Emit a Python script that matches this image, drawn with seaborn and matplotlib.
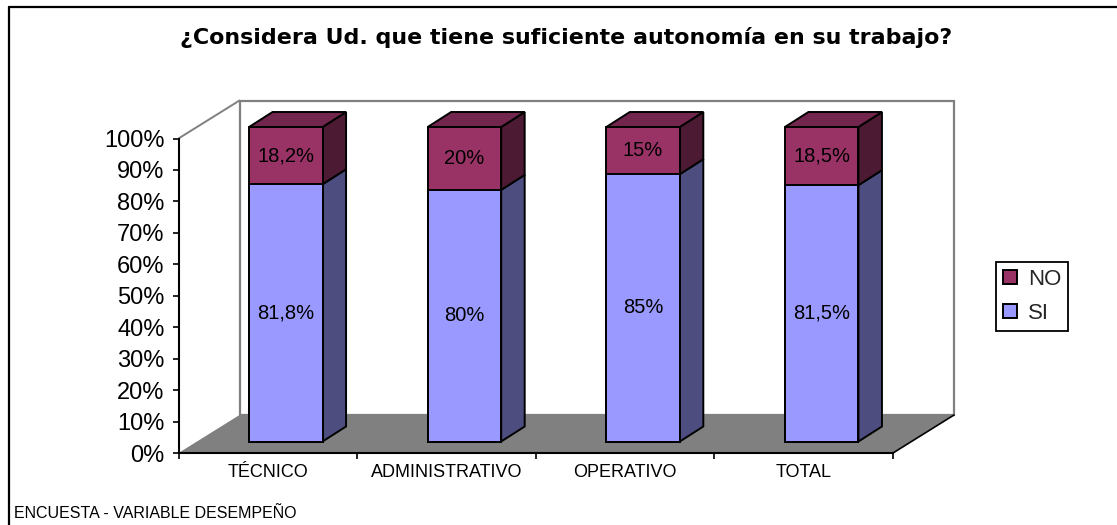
import matplotlib
matplotlib.use("Agg")
import matplotlib.pyplot as plt
from matplotlib.patches import Polygon, Patch
from matplotlib.lines import Line2D
import seaborn as sns

categorias = ["TÉCNICO", "ADMINISTRATIVO", "OPERATIVO", "TOTAL"]
si = [81.8, 80, 85, 81.5]
no = [18.2, 20, 15, 18.5]
si_labels = ["81,8%", "80%", "85%", "81,5%"]
no_labels = ["18,2%", "20%", "15%", "18,5%"]
yticks = [0, 10, 20, 30, 40, 50, 60, 70, 80, 90, 100]

W, H = 1117, 525
AX_L, AX_R, AX_T, AX_B = 178.5, 893, 138.5, 453
px_x = 4 / (AX_R - AX_L)    # categories per pixel
px_y = 100 / (AX_B - AX_T)  # percent per pixel

# 3d look, all in pixels
wall_dx, wall_dy = 61 * px_x, 38 * px_y
bar_dx, bar_dy = 23.5 * px_x, 15 * px_y
shift_x, shift_y = 18 * px_x, 11.5 * px_y
bar_w = 73.5 * px_x

SI_C, SI_SIDE = "#9999FF", "#4D4D80"
NO_C, NO_SIDE, NO_TOP = "#993366", "#4D1A33", "#73264D"
GRIS = "#808080"

sns.set_style("white")
plt.rcParams["font.family"] = ["Liberation Sans", "DejaVu Sans"]

fig = plt.figure(figsize=(W / 100, H / 100), dpi=100, facecolor="white")
ax = fig.add_axes([AX_L / W, 1 - AX_B / H, (AX_R - AX_L) / W, (AX_B - AX_T) / H])
ax.patch.set_alpha(0)

total = [a + b for a, b in zip(si, no)]
sns.barplot(x=categorias, y=total, color=NO_C, saturation=1, width=bar_w,
            edgecolor="black", linewidth=1.4, ax=ax)
sns.barplot(x=categorias, y=si, color=SI_C, saturation=1, width=bar_w,
            edgecolor="black", linewidth=1.4, ax=ax)
for p in ax.patches:
    p.set_x(p.get_x() + shift_x)
    p.set_y(p.get_y() + shift_y)
    p.set_zorder(4)
    p.set_clip_on(False)

ax.set_xlim(-0.5, 3.5)
ax.set_ylim(0, 100)

# back wall and floor
x0, x1 = -0.5, 3.5
ax.add_patch(Polygon([(x0 + wall_dx, wall_dy), (x1 + wall_dx, wall_dy),
                      (x1 + wall_dx, 100 + wall_dy), (x0 + wall_dx, 100 + wall_dy)],
                     closed=True, fc="white", ec=GRIS, lw=1.6, zorder=0.5, clip_on=False))
ax.add_line(Line2D([x0, x0 + wall_dx], [100, 100 + wall_dy], color=GRIS, lw=1.4,
                   zorder=0.6, clip_on=False))
ax.add_patch(Polygon([(x0, 0), (x1, 0), (x1 + wall_dx, wall_dy), (x0 + wall_dx, wall_dy)],
                     closed=True, fc=GRIS, ec="none", zorder=1, clip_on=False))
ax.add_line(Line2D([x1, x1 + wall_dx], [0, wall_dy], color="black", lw=1.2,
                   zorder=1.1, clip_on=False))

# sides and tops of the bars
for i in range(len(categorias)):
    left = i + shift_x - bar_w / 2
    right = i + shift_x + bar_w / 2
    low = shift_y
    mid = si[i] + shift_y
    top = total[i] + shift_y
    ax.add_patch(Polygon([(right, low), (right + bar_dx, low + bar_dy),
                          (right + bar_dx, mid + bar_dy), (right, mid)],
                         closed=True, fc=SI_SIDE, ec="black", lw=1.4, zorder=3, clip_on=False))
    ax.add_patch(Polygon([(right, mid), (right + bar_dx, mid + bar_dy),
                          (right + bar_dx, top + bar_dy), (right, top)],
                         closed=True, fc=NO_SIDE, ec="black", lw=1.4, zorder=3, clip_on=False))
    ax.add_patch(Polygon([(left, top), (right, top),
                          (right + bar_dx, top + bar_dy), (left + bar_dx, top + bar_dy)],
                         closed=True, fc=NO_TOP, ec="black", lw=1.4, zorder=3, clip_on=False))
    ax.text(i + shift_x, si[i] / 2 + shift_y, si_labels[i], ha="center", va="center",
            fontsize=14.5, color="black", zorder=6)
    ax.text(i + shift_x, si[i] + no[i] / 2 + shift_y, no_labels[i], ha="center", va="center",
            fontsize=14.5, color="black", zorder=6)

# axes
sns.despine(ax=ax, top=True, right=True)
for s in ["left", "bottom"]:
    ax.spines[s].set_color("black")
    ax.spines[s].set_linewidth(1.5)
    ax.spines[s].set_zorder(2)
ax.set_yticks(yticks)
ax.set_yticklabels([f"{v}%" for v in yticks])
ax.tick_params(axis="y", which="major", left=True, length=4, width=1.2, color="black",
               labelsize=17, pad=6, labelcolor="black")
ax.set_xticks([-0.5, 0.5, 1.5, 2.5, 3.5])
ax.set_xticklabels([])
ax.set_xticks(range(len(categorias)), minor=True)
ax.set_xticklabels(categorias, minor=True)
ax.tick_params(axis="x", which="major", bottom=True, length=4, width=1.2, color="black")
ax.tick_params(axis="x", which="minor", bottom=False, length=0, labelsize=13, pad=8,
               labelcolor="black")
ax.set_xlabel("")
ax.set_ylabel("")

# legend
handles = [Patch(fc=NO_C, ec="black", lw=1.4, label="NO"),
           Patch(fc=SI_C, ec="black", lw=1.4, label="SI")]
leg = fig.legend(handles=handles, loc="upper left",
                 bbox_to_anchor=(996 / W, 1 - 262 / H), fontsize=16, frameon=True,
                 fancybox=False, framealpha=1, edgecolor="black", borderaxespad=0,
                 borderpad=0.3, handlelength=0.64, handleheight=0.55, handletextpad=0.5,
                 labelspacing=0.6)
leg.get_frame().set_linewidth(1.3)

# title, footer, frame
fig.text(566 / W, 1 - 37 / H, "¿Considera Ud. que tiene suficiente autonomía en su trabajo?",
         ha="center", va="center", fontsize=15.9, fontweight="bold", color="black",
         family=["DejaVu Sans"])
fig.text(14 / W, 1 - 513 / H, "ENCUESTA - VARIABLE DESEMPEÑO", ha="left", va="center",
         fontsize=11.5, color="black")
fig.add_artist(Line2D([9 / W, 9 / W], [0, 1 - 7 / H], color="black", lw=1.6))
fig.add_artist(Line2D([9 / W, 1], [1 - 7 / H, 1 - 7 / H], color="black", lw=1.6))

fig.savefig("out.png", dpi=100, facecolor="white")
